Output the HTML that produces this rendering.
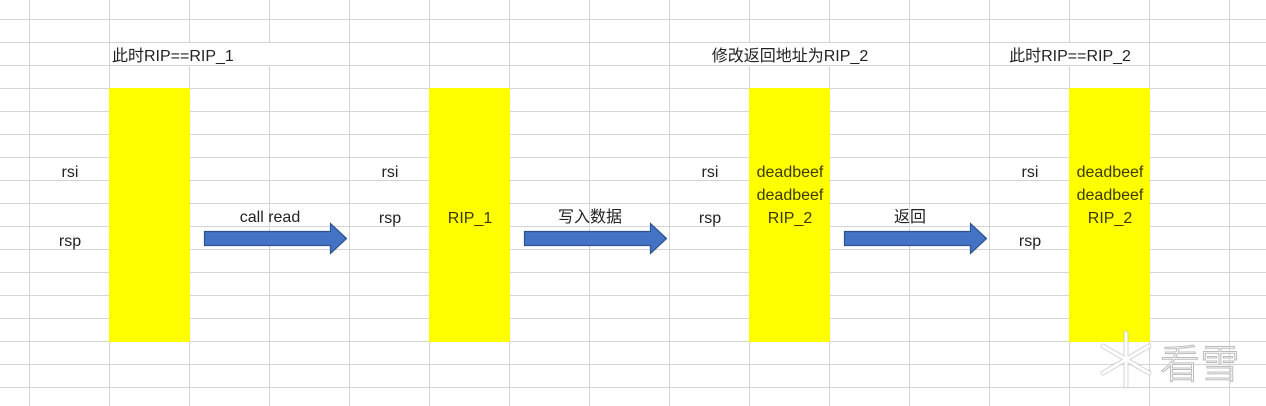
<!DOCTYPE html>
<html><head><meta charset="utf-8"><style>
html,body{margin:0;padding:0;background:#fff;}
body{width:1266px;height:406px;overflow:hidden;position:relative;}
svg{position:absolute;left:0;top:0;}
text{font-family:"Liberation Sans","Noto Sans CJK SC",sans-serif;font-size:16px;fill:#222;}
.y{fill:#3a3a00;}
</style></head><body>
<svg width="1266" height="406" viewBox="0 0 1266 406">
<g stroke="#d4d4d4" stroke-width="1">
<line x1="0" y1="19.5" x2="1266" y2="19.5"/>
<line x1="0" y1="42.5" x2="1266" y2="42.5"/>
<line x1="0" y1="65.5" x2="1266" y2="65.5"/>
<line x1="0" y1="88.5" x2="1266" y2="88.5"/>
<line x1="0" y1="111.5" x2="1266" y2="111.5"/>
<line x1="0" y1="134.5" x2="1266" y2="134.5"/>
<line x1="0" y1="157.5" x2="1266" y2="157.5"/>
<line x1="0" y1="180.5" x2="1266" y2="180.5"/>
<line x1="0" y1="203.5" x2="1266" y2="203.5"/>
<line x1="0" y1="226.5" x2="1266" y2="226.5"/>
<line x1="0" y1="249.5" x2="1266" y2="249.5"/>
<line x1="0" y1="272.5" x2="1266" y2="272.5"/>
<line x1="0" y1="295.5" x2="1266" y2="295.5"/>
<line x1="0" y1="318.5" x2="1266" y2="318.5"/>
<line x1="0" y1="341.5" x2="1266" y2="341.5"/>
<line x1="0" y1="364.5" x2="1266" y2="364.5"/>
<line x1="0" y1="387.5" x2="1266" y2="387.5"/>
<line x1="29.5" y1="0" x2="29.5" y2="406"/>
<line x1="109.5" y1="0" x2="109.5" y2="406"/>
<line x1="189.5" y1="0" x2="189.5" y2="42"/><line x1="189.5" y1="65" x2="189.5" y2="406"/>
<line x1="269.5" y1="0" x2="269.5" y2="42"/><line x1="269.5" y1="65" x2="269.5" y2="406"/>
<line x1="349.5" y1="0" x2="349.5" y2="406"/>
<line x1="429.5" y1="0" x2="429.5" y2="406"/>
<line x1="509.5" y1="0" x2="509.5" y2="406"/>
<line x1="589.5" y1="0" x2="589.5" y2="406"/>
<line x1="669.5" y1="0" x2="669.5" y2="406"/>
<line x1="749.5" y1="0" x2="749.5" y2="42"/><line x1="749.5" y1="65" x2="749.5" y2="406"/>
<line x1="829.5" y1="0" x2="829.5" y2="42"/><line x1="829.5" y1="65" x2="829.5" y2="406"/>
<line x1="909.5" y1="0" x2="909.5" y2="406"/>
<line x1="989.5" y1="0" x2="989.5" y2="406"/>
<line x1="1069.5" y1="0" x2="1069.5" y2="42"/><line x1="1069.5" y1="65" x2="1069.5" y2="406"/>
<line x1="1149.5" y1="0" x2="1149.5" y2="406"/>
<line x1="1229.5" y1="0" x2="1229.5" y2="406"/>
</g>
<rect x="109" y="88" width="81" height="254" fill="#ffff00"/>
<rect x="429" y="88" width="81" height="254" fill="#ffff00"/>
<rect x="749" y="88" width="81" height="254" fill="#ffff00"/>
<rect x="1069" y="88" width="81" height="254" fill="#ffff00"/>
<g fill="#4472c4" stroke="#2f528f" stroke-width="1.2">
<polygon points="204.5,231.5 330.5,231.5 330.5,223.5 346.5,238.5 330.5,253.5 330.5,245.5 204.5,245.5"/>
<polygon points="524.5,231.5 650.5,231.5 650.5,223.5 666.5,238.5 650.5,253.5 650.5,245.5 524.5,245.5"/>
<polygon points="844.5,231.5 970.5,231.5 970.5,223.5 986.5,238.5 970.5,253.5 970.5,245.5 844.5,245.5"/>
</g>
<text x="112" y="61">此时RIP==RIP_1</text>
<text x="790" y="61" text-anchor="middle">修改返回地址为RIP_2</text>
<text x="1070" y="61" text-anchor="middle">此时RIP==RIP_2</text>
<text x="70" y="177" text-anchor="middle">rsi</text>
<text x="70" y="246" text-anchor="middle">rsp</text>
<text x="390" y="177" text-anchor="middle">rsi</text>
<text x="390" y="223" text-anchor="middle">rsp</text>
<text x="710" y="177" text-anchor="middle">rsi</text>
<text x="710" y="223" text-anchor="middle">rsp</text>
<text x="1030" y="177" text-anchor="middle">rsi</text>
<text x="1030" y="246" text-anchor="middle">rsp</text>
<text x="270" y="222" text-anchor="middle">call read</text>
<text x="590" y="222" text-anchor="middle">写入数据</text>
<text x="910" y="222" text-anchor="middle">返回</text>
<text class="y" x="470" y="223" text-anchor="middle">RIP_1</text>
<text class="y" x="790" y="177" text-anchor="middle">deadbeef</text>
<text class="y" x="790" y="200" text-anchor="middle">deadbeef</text>
<text class="y" x="790" y="223" text-anchor="middle">RIP_2</text>
<text class="y" x="1110" y="177" text-anchor="middle">deadbeef</text>
<text class="y" x="1110" y="200" text-anchor="middle">deadbeef</text>
<text class="y" x="1110" y="223" text-anchor="middle">RIP_2</text>
<g stroke="#bbb" stroke-width="5" stroke-linecap="round" opacity="0.6">
<line x1="1126" y1="333" x2="1126" y2="386"/><line x1="1103" y1="346" x2="1149" y2="373"/><line x1="1103" y1="373" x2="1149" y2="346"/>
</g>
<g stroke="#fff" stroke-width="3" stroke-linecap="round">
<line x1="1126" y1="333" x2="1126" y2="386"/><line x1="1103" y1="346" x2="1149" y2="373"/><line x1="1103" y1="373" x2="1149" y2="346"/>
</g>
<text x="1160" y="378" style="font-size:40px;fill:#fff;stroke:#bbb;stroke-width:1;font-family:'Noto Sans CJK SC',sans-serif;font-weight:300">看雪</text>
</svg>
</body></html>
